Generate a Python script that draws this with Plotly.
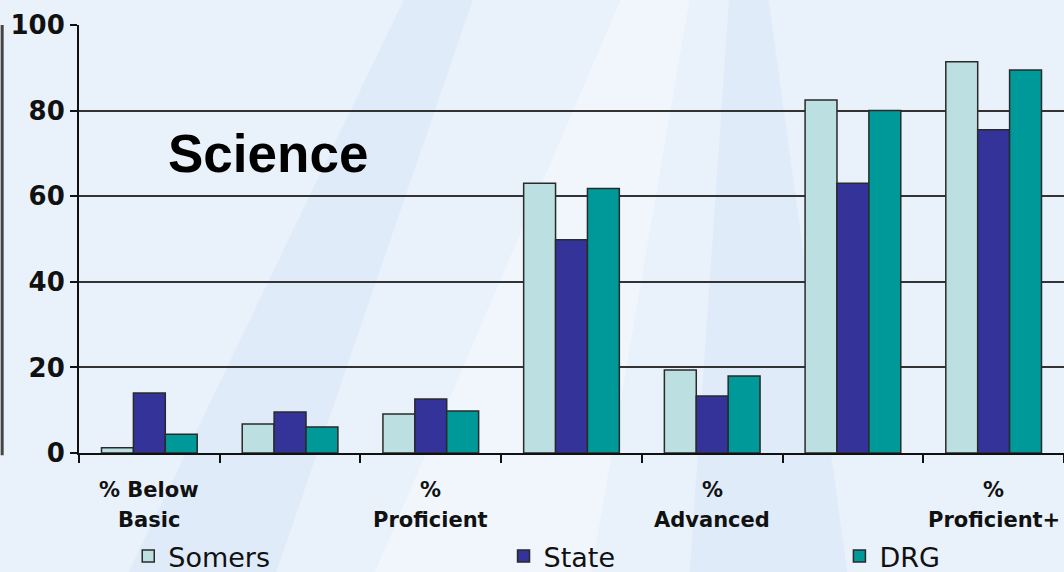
import plotly.graph_objects as go

categories = ["% Below Basic", "% Basic", "% Proficient", "% Goal", "% Advanced", "% Goal+", "% Proficient+"]
label_line1 = ["% Below", "", "%", "", "%", "", "%"]
label_line2 = ["Basic", "", "Proficient", "", "Advanced", "", "Proficient+"]

somers = [1.2, 6.8, 9.1, 63.0, 19.4, 82.5, 91.4]
state = [14.0, 9.6, 12.6, 49.8, 13.3, 63.0, 75.5]
drg = [4.4, 6.1, 9.8, 61.8, 18.0, 80.0, 89.5]

series = [("Somers", somers, "#bce0e2", "legend"),
          ("State", state, "#333399", "legend2"),
          ("DRG", drg, "#009999", "legend3")]

fig = go.Figure()
for name, vals, col, lg in series:
    fig.add_trace(go.Bar(x=categories, y=vals, name=name, legend=lg, showlegend=True,
                         marker=dict(color=col, line=dict(color="#2a2a2a", width=1.5))))

tick_font = dict(family="DejaVu Sans", size=26, color="#111111", weight="bold")
lab_font = dict(family="DejaVu Sans", size=21, color="#111111", weight="bold")
leg_font = dict(family="DejaVu Sans", size=27, color="#111111")

annotations = []
for c, l1, l2 in zip(categories, label_line1, label_line2):
    if l1:
        annotations.append(dict(x=c, xref="x", y=0, yref="paper", yshift=-37, text=l1,
                                showarrow=False, font=lab_font, yanchor="middle"))
    if l2:
        annotations.append(dict(x=c, xref="x", y=0, yref="paper", yshift=-67, text=l2,
                                showarrow=False, font=lab_font, yanchor="middle"))
annotations.append(dict(x=0.192, xref="paper", y=0.70, yref="paper", text="<b>Science</b>",
                        showarrow=False, xanchor="center", yanchor="middle",
                        font=dict(family="Liberation Sans", size=53, color="#000000")))

# subtle light rays in the background
rays = [
    dict(type="path", xref="paper", yref="paper", layer="below",
         path="M 0.30,-0.28 L 0.52,-0.28 L 0.62,1.06 L 0.55,1.06 Z",
         fillcolor="rgba(255,255,255,0.35)", line=dict(width=0)),
    dict(type="path", xref="paper", yref="paper", layer="below",
         path="M 0.05,-0.28 L 0.20,-0.28 L 0.40,1.06 L 0.33,1.06 Z",
         fillcolor="rgba(200,220,245,0.25)", line=dict(width=0)),
    dict(type="path", xref="paper", yref="paper", layer="below",
         path="M 0.62,-0.28 L 0.78,-0.28 L 0.70,1.06 L 0.66,1.06 Z",
         fillcolor="rgba(200,220,245,0.25)", line=dict(width=0)),
]

leg_common = dict(orientation="h", yref="container", y=0.027, xanchor="left", yanchor="middle",
                  font=leg_font, bgcolor="rgba(0,0,0,0)", visible=True)

fig.update_layout(
    width=1064, height=572,
    margin=dict(l=79, r=0, t=25, b=119, autoexpand=False),
    paper_bgcolor="#e9f1fb",
    plot_bgcolor="rgba(0,0,0,0)",
    showlegend=True,
    barmode="group", bargap=0.32, bargroupgap=0,
    annotations=annotations,
    legend=dict(x=0.050, **leg_common),
    legend2=dict(x=0.431, **leg_common),
    legend3=dict(x=0.772, **leg_common),
    shapes=rays + [dict(type="line", xref="paper", yref="paper", x0=-0.078, x1=-0.078,
                        y0=-0.005, y1=1.0, line=dict(color="#444444", width=3))],
)
fig.update_xaxes(showticklabels=False, tickson="boundaries", ticks="outside", ticklen=8,
                 tickcolor="#111111", tickwidth=2, showline=True, linecolor="#111111",
                 linewidth=2, showgrid=False, range=[-0.5, 6.5])
fig.update_yaxes(range=[0, 100], dtick=20, ticks="outside", ticklen=7, tickcolor="#111111",
                 tickwidth=2, showline=True, linecolor="#111111", linewidth=2,
                 showgrid=True, gridcolor="#333333", gridwidth=1.5, tickfont=tick_font,
                 zeroline=False)

fig.write_html("out.html", config={"displayModeBar": False},
               post_script="document.body.style.margin='0';document.body.style.overflow='hidden';")
